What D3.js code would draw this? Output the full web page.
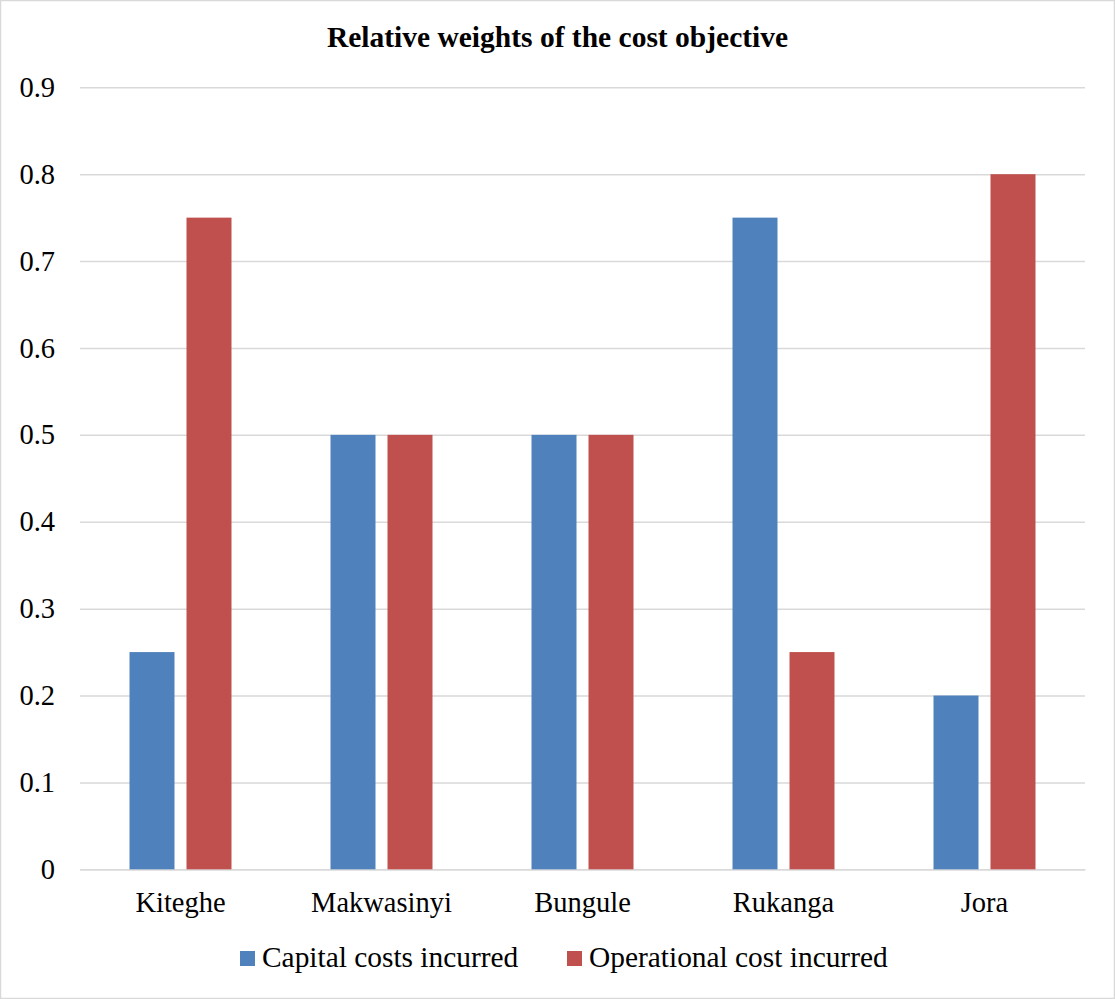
<!DOCTYPE html>
<html>
<head>
<meta charset="utf-8">
<script src="https://cdn.jsdelivr.net/npm/d3@7"></script>
<style>
  html, body { margin: 0; padding: 0; background: #fff; }
  svg { display: block; }
  text { font-family: "Liberation Serif", "Times New Roman", serif; fill: #000; }
</style>
</head>
<body>
<svg id="chart" width="1115" height="999"></svg>
<script>
// Sites and the two cost weights for each
const categories = ["Kiteghe", "Makwasinyi", "Bungule", "Rukanga", "Jora"];
const seriesNames = ["Capital costs incurred", "Operational cost incurred"];
const capitalCosts = [0.25, 0.5, 0.5, 0.75, 0.2];
const operationalCosts = [0.75, 0.5, 0.5, 0.25, 0.8];
const yTicks = [0, 0.1, 0.2, 0.3, 0.4, 0.5, 0.6, 0.7, 0.8, 0.9];
const colors = ["#4F81BD", "#C0504D"];
const title = "Relative weights of the cost objective";

const W = 1115, H = 999;
const margin = { left: 80, right: 30, top: 87.3, bottom: 999 - 869.3 };
const serif = '"Liberation Serif", "Times New Roman", serif';

const svg = d3.select("#chart");

// outer frame
svg.append("rect")
  .attr("x", 0.5).attr("y", 0.5)
  .attr("width", W - 1).attr("height", H - 1)
  .attr("fill", "#fff").attr("stroke", "#d9d9d9").attr("stroke-width", 1.5);

const x = d3.scaleBand()
  .domain(categories)
  .range([margin.left, W - margin.right])
  .padding(0);

const xSub = d3.scaleBand()
  .domain(seriesNames)
  .range([0, x.bandwidth()])
  .paddingInner(12 / 57)
  .paddingOuter(49.5 / 57);

const y = d3.scaleLinear()
  .domain([0, 0.9])
  .range([H - margin.bottom, margin.top]);

// gridlines and value labels
const yAxis = d3.axisLeft(y)
  .tickValues(yTicks)
  .tickSize(-(W - margin.left - margin.right))
  .tickPadding(25)
  .tickFormat(d => d === 0 ? "0" : d3.format(".1f")(d));

const gy = svg.append("g")
  .attr("transform", `translate(${margin.left},0)`)
  .call(yAxis);
gy.attr("font-family", null);
gy.select(".domain").remove();
gy.selectAll(".tick line").attr("stroke", "#d9d9d9").attr("stroke-width", 1.5);
gy.selectAll(".tick text")
  .style("font-family", serif)
  .style("font-size", "28.5px")
  .attr("fill", "#000");

// category axis
const xAxis = d3.axisBottom(x).tickSize(0).tickPadding(22);
const gx = svg.append("g")
  .attr("transform", `translate(0,${H - margin.bottom})`)
  .call(xAxis);
gx.attr("font-family", null);
gx.select(".domain").attr("stroke", "#d9d9d9").attr("stroke-width", 1.5);
gx.selectAll(".tick text")
  .style("font-family", serif)
  .style("font-size", "28.5px")
  .attr("fill", "#000");

// bars
const rows = categories.map((c, i) => ({
  category: c,
  values: [capitalCosts[i], operationalCosts[i]]
}));

const groups = svg.append("g").selectAll("g")
  .data(rows)
  .join("g")
  .attr("transform", d => `translate(${x(d.category)},0)`);

groups.selectAll("rect")
  .data(d => d.values.map((v, k) => ({ series: seriesNames[k], value: v, k })))
  .join("rect")
  .attr("x", d => xSub(d.series))
  .attr("width", xSub.bandwidth())
  .attr("y", d => y(d.value))
  .attr("height", d => y(0) - y(d.value))
  .attr("fill", d => colors[d.k]);

// title
svg.append("text")
  .attr("x", W / 2)
  .attr("y", 47)
  .attr("text-anchor", "middle")
  .style("font-family", serif)
  .style("font-size", "29.5px")
  .style("font-weight", "bold")
  .text(title);

// legend
const legendX = [240, 567];
const legend = svg.append("g").selectAll("g")
  .data(seriesNames)
  .join("g")
  .attr("transform", (d, i) => `translate(${legendX[i]},951)`);
legend.append("rect")
  .attr("width", 15).attr("height", 15)
  .attr("fill", (d, i) => colors[i]);
legend.append("text")
  .attr("x", 22).attr("y", 16)
  .style("font-family", serif)
  .style("font-size", "29.4px")
  .text(d => d);
</script>
</body>
</html>
